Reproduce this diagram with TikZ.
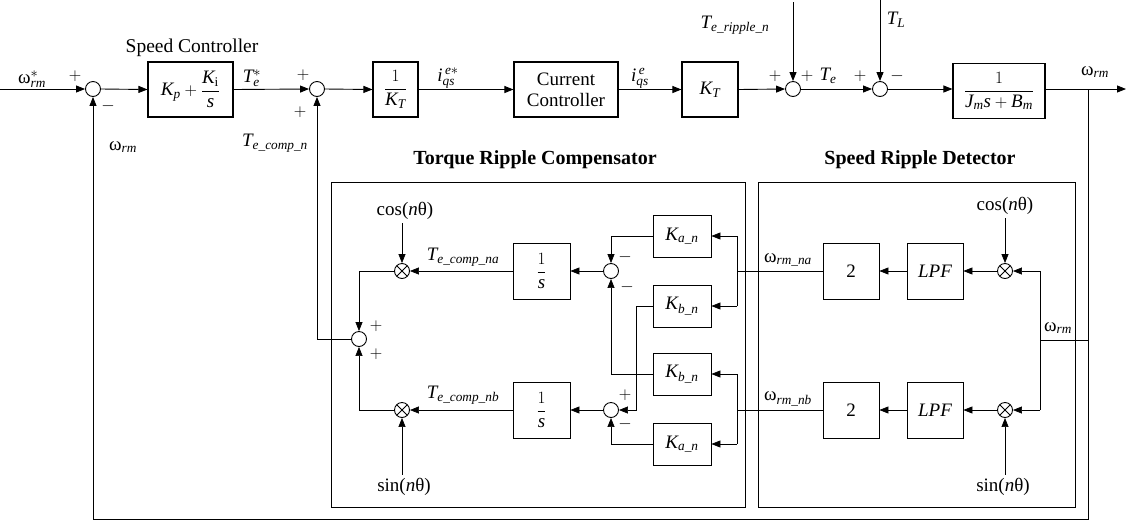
\documentclass[tikz,border=0pt]{standalone}
\usepackage{amsmath}
\usepackage{fontspec}
\setmainfont{Liberation Serif}
\usetikzlibrary{arrows.meta}
\newcommand\vi[1]{\text{\itshape #1}}
\newcommand\om{\text{\upshape ω}}
\begin{document}
\begin{tikzpicture}[x=1pt,y=-1pt,
  every node/.style={font=\fontsize{19}{21}\selectfont},
  blk/.style={draw, line width=1.1pt, inner sep=0pt, minimum height=55pt},
  iblk/.style={draw, line width=0.8pt, inner sep=0pt},
  sumc/.style={draw, circle, line width=0.9pt, minimum size=15pt, inner sep=0pt},
  mulc/.style={sumc, path picture={\draw[line width=0.8pt] (path picture bounding box.north west)--(path picture bounding box.south east) (path picture bounding box.north east)--(path picture bounding box.south west);}},
  arr/.style={-{Triangle[length=9pt,width=7pt]}, line width=0.9pt},
  ln/.style={line width=0.9pt},
  iarr/.style={-{Triangle[length=9pt,width=7pt]}, line width=0.7pt},
  iln/.style={line width=0.7pt},
  sg/.style={font=\fontsize{16}{16}\selectfont, inner sep=0pt},
  lab/.style={inner sep=0pt},
  frame/.style={draw, line width=0.9pt, inner sep=0pt},
  ttl/.style={font=\fontsize{20}{24}\selectfont\bfseries, inner sep=0pt}
]
\useasboundingbox (0,0) rectangle (1126,523);

% ---------- main loop ----------
\coordinate (in) at (0,89);
\node[sumc] (s1) at (93,89) {};
\node[blk, minimum width=85pt] (pi) at (190.5,89.5) {$\vi{K}_{\vi{p}}+\dfrac{\vi{K}_{\text{i}}}{\vi{s}}$};
\node[sumc] (s2) at (317,89) {};
\node[blk, minimum width=45pt] (kt1) at (395.5,89.5) {$\dfrac{1}{\vi{K}_{\vi{T}}}$};
\node[blk, minimum width=104pt, align=center] (cc) at (566,89.5) {Current\\Controller};
\node[blk, minimum width=56pt] (kt) at (710,89.5) {$\vi{K}_{\vi{T}}$};
\node[sumc] (s3) at (793,89) {};
\node[sumc] (s4) at (880,89) {};
\node[blk, minimum width=92pt] (pl) at (999,91) {$\dfrac{1}{\vi{J}_{\vi{m}}\vi{s}+\vi{B}_{\vi{m}}}$};
\coordinate (out) at (1126,89);
\coordinate (br) at (1088,89);
\coordinate (fb1) at (1088,519);
\coordinate (fb2) at (93,519);
\coordinate (rip) at (793,2);
\coordinate (tl) at (880,0);

\draw[arr] (in) -- (s1.west);
\draw[arr] (s1.east) -- (pi.west);
\draw[arr] (pi.east) -- (s2.west);
\draw[arr] (s2.east) -- (kt1.west);
\draw[arr] (kt1.east) -- (cc.west);
\draw[arr] (cc.east) -- (kt.west);
\draw[arr] (kt.east) -- (s3.west);
\draw[arr] (s3.east) -- (s4.west);
\draw[arr] (s4.east) -- (pl.west |- s4.east);
\draw[arr] (pl.east |- out) -- (out);
\draw[arr] (rip) -- (s3.north);
\draw[arr] (tl) -- (s4.north);
\draw[ln] (br) -- (fb1) -- (fb2);
\draw[arr] (fb2) -- (s1.south);

% main labels
\node[lab] (lwref) at (32,79) {\om$^{*}_{\vi{rm}}$};
\node[sg] (p1) at (75,76) {$+$};
\node[sg] (n1) at (108,106) {$-$};
\node[lab, font=\fontsize{19.5}{21}\selectfont] (lsc) at (192,48) {Speed Controller};
\node[lab] (lte) at (252,78) {\vi{T}$^{*}_{\vi{e}}$};
\node[sg] (p2) at (303,75) {$+$};
\node[sg] (p3) at (300,112) {$+$};
\node[lab] (ltec) at (275,143) {\vi{T}$_{\vi{e\_comp\_n}}$};
\node[lab] (lwfb) at (123,147) {\om$_{\vi{rm}}$};
\node[lab] (liqs) at (448,78) {$\vi{i}^{\,\vi{e}*}_{\vi{qs}}$};
\node[lab] (liq) at (640,78) {$\vi{i}^{\,\vi{e}}_{\vi{qs}}$};
\node[lab] (lrip) at (735,25) {\vi{T}$_{\vi{e\_ripple\_n}}$};
\node[sg] (p4) at (775,76) {$+$};
\node[sg] (p5) at (807,76) {$+$};
\node[lab] (lte2) at (828,76) {\vi{T}$_{\vi{e}}$};
\node[sg] (p6) at (860,76) {$+$};
\node[sg] (n2) at (897,76) {$-$};
\node[lab] (ltl) at (896,20) {\vi{T}$_{\vi{L}}$};
\node[lab] (lwout) at (1095,72) {\om$_{\vi{rm}}$};

% ---------- frames ----------
\node[frame, minimum width=414pt, minimum height=325pt] (trc) at (538,344.5) {};
\node[frame, minimum width=317pt, minimum height=325pt] (srd) at (916.5,344.5) {};
\node[ttl] (trct) at (535,160) {Torque Ripple Compensator};
\node[ttl] (srdt) at (920,160) {Speed Ripple Detector};

% ---------- compensator ----------
\node[mulc] (m1) at (402,271) {};
\node[mulc] (m2) at (402,410) {};
\node[sumc] (c0) at (359,339) {};
\node[iblk, minimum width=57pt, minimum height=56pt] (i1) at (541.5,271) {$\dfrac{1}{\vi{s}}$};
\node[iblk, minimum width=57pt, minimum height=56pt] (i2) at (541.5,410) {$\dfrac{1}{\vi{s}}$};
\node[sumc] (a1) at (611,271) {};
\node[sumc] (a2) at (611,410) {};
\node[iblk, minimum width=58pt, minimum height=42pt] (ka1) at (682,236) {$\vi{K}_{\vi{a\_n}}$};
\node[iblk, minimum width=58pt, minimum height=42pt] (kb1) at (682,306) {$\vi{K}_{\vi{b\_n}}$};
\node[iblk, minimum width=58pt, minimum height=42pt] (kb2) at (682,374) {$\vi{K}_{\vi{b\_n}}$};
\node[iblk, minimum width=58pt, minimum height=42pt] (ka2) at (682,444) {$\vi{K}_{\vi{a\_n}}$};
\coordinate (j1) at (737,271);
\coordinate (j2) at (737,410);
\coordinate (j1t) at (737,236);
\coordinate (j1b) at (737,306);
\coordinate (j2t) at (737,374);
\coordinate (j2b) at (737,444);

\node (cos1) at (405,211) {cos(\vi{n}θ)};
\node (sin1) at (404,487) {sin(\vi{n}θ)};
\draw[iarr] (m1.north |- cos1.south) -- (m1.north);
\draw[iarr] (m2.south |- sin1.north) -- (m2.south);

\draw[iln] (j1t) -- (j1b);
\draw[iln] (j2t) -- (j2b);
\draw[iarr] (j1t) -- (ka1.east);
\draw[iarr] (j1b) -- (kb1.east);
\draw[iarr] (j2t) -- (kb2.east);
\draw[iarr] (j2b) -- (ka2.east);
\draw[iarr] (ka1.west) -| (a1.north);
\draw[iarr] (kb2.west) -| (a1.south);
\draw[iarr] (kb1.west) -- ++(-16,0) |- (a2.east);
\draw[iarr] (ka2.west) -| (a2.south);
\draw[iarr] (a1.west) -- (i1.east);
\draw[iarr] (a2.west) -- (i2.east);
\draw[iarr] (i1.west) -- (m1.east);
\draw[iarr] (i2.west) -- (m2.east);
\draw[iarr] (m1.west) -| (c0.north);
\draw[iarr] (m2.west) -| (c0.south);
\draw[arr] (c0.west) -| (s2.south);

\node[sg] (p7) at (376,326) {$+$};
\node[sg] (p8) at (376,354) {$+$};
\node[sg] (n3) at (625,257) {$-$};
\node[sg] (n4) at (627,287) {$-$};
\node[sg] (p9) at (625,395) {$+$};
\node[sg] (n5) at (625,424) {$-$};
\node[lab] (ltna) at (463,257) {\vi{T}$_{\vi{e\_comp\_na}}$};
\node[lab] (ltnb) at (463,395) {\vi{T}$_{\vi{e\_comp\_nb}}$};
\node[lab] (lwna) at (788,260) {\om$_{\vi{rm\_na}}$};
\node[lab] (lwnb) at (788,399) {\om$_{\vi{rm\_nb}}$};

% ---------- detector ----------
\node[mulc] (dm1) at (1005,271) {};
\node[mulc] (dm2) at (1005,410) {};
\node[iblk, minimum width=56pt, minimum height=56pt] (lpf1) at (935,271) {\vi{LPF}};
\node[iblk, minimum width=56pt, minimum height=56pt] (lpf2) at (935,410) {\vi{LPF}};
\node[iblk, minimum width=56pt, minimum height=56pt] (d2a) at (851,271) {2};
\node[iblk, minimum width=56pt, minimum height=56pt] (d2b) at (851,410) {2};
\coordinate (dr1) at (1040,271);
\coordinate (dr2) at (1040,410);
\coordinate (dw) at (1040,340);
\coordinate (fbw) at (1088,340);
\node (cos2) at (1005,206) {cos(\vi{n}θ)};
\node (sin2) at (1003,487) {sin(\vi{n}θ)};
\node[lab] (lwd) at (1058,328) {\om$_{\vi{rm}}$};

\draw[iln] (fbw) -- (dw);
\draw[iln] (dr1) -- (dr2);
\draw[iarr] (dr1) -- (dm1.east);
\draw[iarr] (dr2) -- (dm2.east);
\draw[iarr] (dm1.north |- cos2.south) -- (dm1.north);
\draw[iarr] (dm2.south |- sin2.north) -- (dm2.south);
\draw[iarr] (dm1.west) -- (lpf1.east);
\draw[iarr] (dm2.west) -- (lpf2.east);
\draw[iarr] (lpf1.west) -- (d2a.east);
\draw[iarr] (lpf2.west) -- (d2b.east);
\draw[iln] (d2a.west) -- (j1);
\draw[iln] (d2b.west) -- (j2);
\end{tikzpicture}
\end{document}
